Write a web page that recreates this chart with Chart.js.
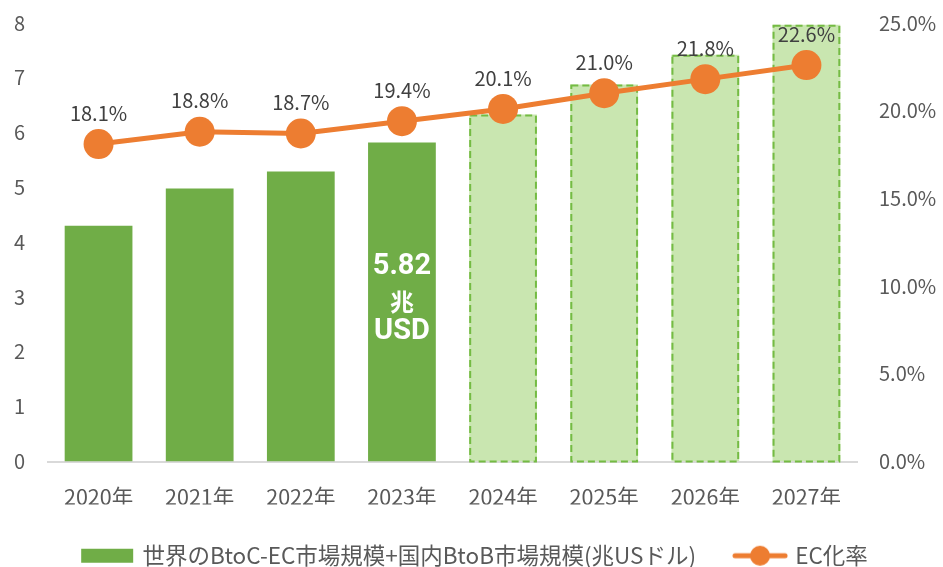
<!DOCTYPE html>
<html lang="ja">
<head>
<meta charset="utf-8">
<script src="https://cdn.jsdelivr.net/npm/chart.js@4.4.1/dist/chart.umd.min.js"></script>
<style>
    html, body { margin: 0; padding: 0; background: #ffffff; }
    #wrap { width: 943px; height: 567px; }
</style>
</head>
<body>
<div id="wrap"><canvas id="ecChart" width="943" height="567"></canvas></div>
<script>
// categories / series
const years = ['2020年', '2021年', '2022年', '2023年', '2024年', '2025年', '2026年', '2027年'];
const marketSize = [4.30, 4.98, 5.29, 5.82, 6.33, 6.88, 7.42, 7.97];
const ecRate = [18.1, 18.8, 18.7, 19.4, 20.1, 21.0, 21.8, 22.6];
const sizeTicks = [0, 1, 2, 3, 4, 5, 6, 7, 8];
const rateTicks = [0, 5, 10, 15, 20, 25];
const forecastFrom = 4; // 2024年以降は予測値
const calloutIndex = 3;
const calloutLines = ['5.82', '兆', 'USD'];

const GREEN = '#70ad47';
const GREEN_LIGHT = '#c9e6b0';
const GREEN_DASH = '#74bb43';
const ORANGE = '#ed7d31';
const FONT = "'Noto Sans CJK JP', 'Noto Sans', sans-serif";

Chart.defaults.font.family = FONT;
Chart.defaults.color = '#595959';

// legend icons
function makeBarIcon() {
    var c = document.createElement('canvas');
    c.width = 56; c.height = 16;
    var g = c.getContext('2d');
    g.fillStyle = GREEN;
    g.fillRect(2, 1, 52, 14);
    return c;
}
function makeLineIcon() {
    var c = document.createElement('canvas');
    c.width = 56; c.height = 22;
    var g = c.getContext('2d');
    g.strokeStyle = ORANGE;
    g.lineWidth = 5;
    g.lineCap = 'round';
    g.beginPath(); g.moveTo(3, 11); g.lineTo(53, 11); g.stroke();
    g.fillStyle = ORANGE;
    g.beginPath(); g.arc(28, 11, 10, 0, Math.PI * 2); g.fill();
    return c;
}
const barIcon = makeBarIcon();
const lineIcon = makeLineIcon();

// y axes: tick padding should not push the plot area down
function fixAxisWidth(w) {
    return function (scale) {
        scale.width = w;
        scale.paddingTop = 0;
        scale.paddingBottom = 0;
    };
}

// dashed outlines for forecast bars, callout inside the 2023 bar, % labels on the line
const markLabels = {
    id: 'markLabels',
    afterDatasetDraw: function (chart, args) {
        if (args.index !== 0) return;
        var ctx = chart.ctx;
        args.meta.data.forEach(function (bar, i) {
            var p = bar.getProps(['x', 'y', 'base', 'width'], true);
            if (i >= forecastFrom) {
                ctx.save();
                ctx.setLineDash([7, 4]);
                ctx.lineWidth = 2;
                ctx.strokeStyle = GREEN_DASH;
                ctx.strokeRect(p.x - p.width / 2 + 1, p.y + 1, p.width - 2, p.base - p.y - 1);
                ctx.restore();
            }
            if (i === calloutIndex) {
                var mid = (p.y + p.base) / 2;
                ctx.save();
                ctx.fillStyle = '#ffffff';
                ctx.textAlign = 'center';
                ctx.textBaseline = 'middle';
                ctx.font = "bold 29px Roboto, " + FONT;
                ctx.fillText(calloutLines[0], p.x, mid - 35);
                ctx.font = "bold 24px " + FONT;
                ctx.fillText(calloutLines[1], p.x, mid);
                ctx.font = "bold 29px Roboto, " + FONT;
                ctx.fillText(calloutLines[2], p.x, mid + 30);
                ctx.restore();
            }
        });
    },
    afterDatasetsDraw: function (chart) {
        var ctx = chart.ctx;
        var meta = chart.getDatasetMeta(1);
        ctx.save();
        ctx.fillStyle = '#404040';
        ctx.font = "20px " + FONT;
        ctx.textAlign = 'center';
        ctx.textBaseline = 'middle';
        meta.data.forEach(function (pt, i) {
            ctx.fillText(ecRate[i].toFixed(1) + '%', pt.x, pt.y - 31);
        });
        ctx.restore();
    }
};

var ctx = document.getElementById('ecChart').getContext('2d');
var ecChart = new Chart(ctx, {
    type: 'bar',
    plugins: [markLabels],
    data: {
        labels: years,
        datasets: [{
            type: 'bar',
            label: '世界のBtoC-EC市場規模+国内BtoB市場規模(兆USドル)',
            data: marketSize,
            yAxisID: 'y',
            order: 2,
            backgroundColor: marketSize.map(function (v, i) { return i < forecastFrom ? GREEN : GREEN_LIGHT; }),
            borderWidth: 0,
            barPercentage: 0.67,
            categoryPercentage: 1.0
        }, {
            type: 'line',
            label: 'EC化率',
            data: ecRate,
            yAxisID: 'y1',
            order: 1,
            borderColor: ORANGE,
            backgroundColor: ORANGE,
            borderWidth: 5,
            pointRadius: 15,
            pointHoverRadius: 15,
            pointBackgroundColor: ORANGE,
            pointBorderWidth: 0,
            tension: 0
        }]
    },
    options: {
        responsive: false,
        animation: false,
        devicePixelRatio: 1,
        layout: {
            // legend box keeps 10px empty below its text, so pull it down a little
            padding: { top: 23, left: 8, right: 0, bottom: -10 }
        },
        scales: {
            x: {
                grid: { display: false, drawTicks: false },
                border: { display: true, color: '#d9d9d9', width: 2 },
                ticks: { padding: 22, color: '#595959', font: { size: 21.5 } },
                afterFit: function (scale) { scale.height = 43; }
            },
            y: {
                position: 'left',
                min: 0,
                max: 8,
                grid: { display: false, drawTicks: false },
                border: { display: false },
                ticks: { padding: 23, color: '#595959', font: { size: 20 } },
                afterBuildTicks: function (axis) { axis.ticks = sizeTicks.map(function (v) { return { value: v }; }); },
                afterFit: fixAxisWidth(40)
            },
            y1: {
                position: 'right',
                min: 0,
                max: 25,
                grid: { display: false, drawTicks: false },
                border: { display: false },
                ticks: {
                    padding: 22,
                    color: '#595959',
                    font: { size: 20 },
                    callback: function (v) { return v.toFixed(1) + '%'; }
                },
                afterBuildTicks: function (axis) { axis.ticks = rateTicks.map(function (v) { return { value: v }; }); },
                afterFit: fixAxisWidth(86)
            }
        },
        plugins: {
            tooltip: { enabled: false },
            legend: {
                position: 'bottom',
                labels: {
                    usePointStyle: true,
                    pointStyleWidth: 48,
                    padding: 40,
                    color: '#595959',
                    font: { size: 22.5 },
                    generateLabels: function (chart) {
                        var ds = chart.data.datasets;
                        return [
                            { text: ds[0].label, pointStyle: barIcon, fillStyle: GREEN, strokeStyle: GREEN, lineWidth: 0, datasetIndex: 0, hidden: false, fontColor: '#595959' },
                            { text: ds[1].label, pointStyle: lineIcon, fillStyle: ORANGE, strokeStyle: ORANGE, lineWidth: 0, datasetIndex: 1, hidden: false, fontColor: '#595959' }
                        ];
                    }
                }
            }
        }
    }
});
</script>
</body>
</html>
